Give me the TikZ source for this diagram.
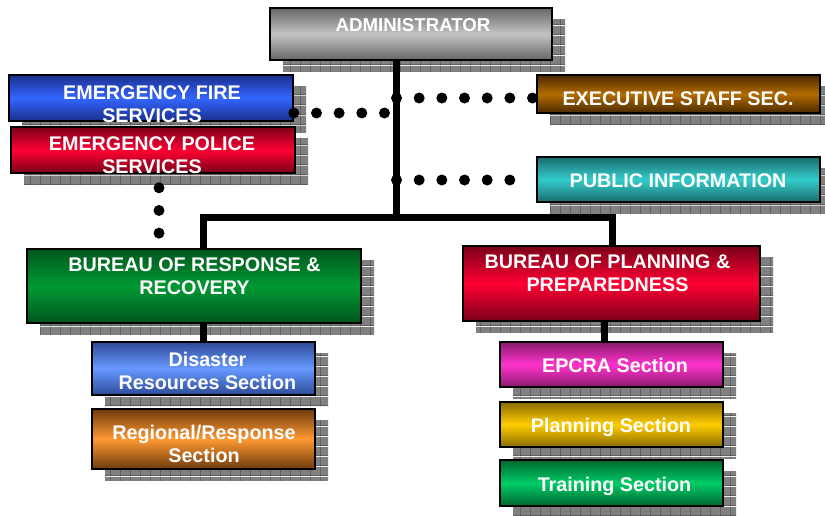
\documentclass[tikz,border=0pt]{standalone}
\usepackage{fontspec}
\setmainfont{Liberation Sans}
\usetikzlibrary{fit,shadows,patterns}

% chequered drop shadow under every box
\pgfdeclarepatterninherentlycolored{shadegrid}
{\pgfpointorigin}{\pgfqpoint{7.5pt}{7.5pt}}
{\pgfqpoint{7.5pt}{7.5pt}}
{
  \pgfsetfillcolor{black!50}
  \pgfpathrectangle{\pgfpointorigin}{\pgfqpoint{7.5pt}{7.5pt}}
  \pgfusepath{fill}
  \pgfsetstrokecolor{black!85}
  \pgfsetlinewidth{0.6pt}
  \pgfpathmoveto{\pgfpointorigin}
  \pgfpathlineto{\pgfqpoint{7.5pt}{0pt}}
  \pgfpathmoveto{\pgfpointorigin}
  \pgfpathlineto{\pgfqpoint{0pt}{7.5pt}}
  \pgfusepath{stroke}
}

\definecolor{admindark}{HTML}{666666}
\definecolor{adminlight}{HTML}{C4C4C4}
\definecolor{firedark}{HTML}{1A2F8C}
\definecolor{firelight}{HTML}{3366FF}
\definecolor{policedark}{HTML}{7A0018}
\definecolor{policelight}{HTML}{FF0033}
\definecolor{execdark}{HTML}{4A2A00}
\definecolor{execlight}{HTML}{B36B00}
\definecolor{publicdark}{HTML}{1B6B6B}
\definecolor{publiclight}{HTML}{33CCCC}
\definecolor{responsedark}{HTML}{00561D}
\definecolor{responselight}{HTML}{009933}
\definecolor{disasterdark}{HTML}{2E4A99}
\definecolor{disasterlight}{HTML}{6699FF}
\definecolor{regionaldark}{HTML}{6E3A0C}
\definecolor{regionallight}{HTML}{FF9933}
\definecolor{epcradark}{HTML}{8A1A6E}
\definecolor{epcralight}{HTML}{FF33CC}
\definecolor{planningdark}{HTML}{8A6D00}
\definecolor{planninglight}{HTML}{FFCC00}
\definecolor{trainingdark}{HTML}{00662F}
\definecolor{traininglight}{HTML}{00CC66}

\tikzset{
  orgbox/.style={draw=black, line width=1.2pt, inner sep=0pt,
    general shadow={shadow xshift=9.75pt, shadow yshift=-8.25pt, pattern=shadegrid}},
  tint/.style 2 args={top color=#1, bottom color=#1, middle color=#2},
  boxtext/.style={text=white, font=\fontsize{14.8}{17.3}\selectfont\bfseries,
    align=center, inner sep=0pt},
  link/.style={line width=5.25pt},
  dotline/.style={line width=8.25pt, line cap=round, dash pattern=on 0pt off 17pt},
}

\begin{document}
\begin{tikzpicture}[x=0.75pt, y=-0.75pt]
    \useasboundingbox (0,0) rectangle (825,515);

    % top of the chart
    \node[orgbox, tint={admindark}{adminlight}, fit={(270,8) (552,60)}] (admin) {};
    \node[boxtext, font=\fontsize{14}{17}\selectfont\bfseries] (admintext) at (413,25.5) {ADMINISTRATOR};

    % emergency services, left
    \node[orgbox, tint={firedark}{firelight}, fit={(9,75) (293,121)}] (fire) {};
    \node[boxtext] (firetext) at (152,104) {EMERGENCY FIRE\\SERVICES};
    \node[orgbox, tint={policedark}{policelight}, fit={(11,127) (295,173)}] (police) {};
    \node[boxtext] (policetext) at (152,155) {EMERGENCY POLICE\\SERVICES};

    % staff units, right
    \node[orgbox, tint={execdark}{execlight}, fit={(537,75) (820,113)}] (exec) {};
    \node[boxtext] (exectext) at (678,99) {EXECUTIVE STAFF SEC.};
    \node[orgbox, tint={publicdark}{publiclight}, fit={(537,157) (820,202)}] (public) {};
    \node[boxtext] (publictext) at (678,180.5) {PUBLIC INFORMATION};

    % the two bureaus
    \node[orgbox, tint={responsedark}{responselight}, fit={(27,249) (361,323)}] (response) {};
    \node[boxtext] (responsetext) at (194.5,276.5) {BUREAU OF RESPONSE \&\\RECOVERY};
    \node[orgbox, tint={policedark}{policelight}, fit={(463,246) (760,321)}] (planbureau) {};
    \node[boxtext] (planbureautext) at (607.5,273.5) {BUREAU OF PLANNING \&\\PREPAREDNESS};

    % sections under response & recovery
    \node[orgbox, tint={disasterdark}{disasterlight}, fit={(92,342) (315,395)}] (disaster) {};
    \node[boxtext] (disastertext) at (207.5,370.5) {Disaster\\Resources Section};
    \node[orgbox, tint={regionaldark}{regionallight}, fit={(92,409) (315,469)}] (regional) {};
    \node[boxtext] (regionaltext) at (204,443.5) {Regional/Response\\Section};

    % sections under planning & preparedness
    \node[orgbox, tint={epcradark}{epcralight}, fit={(500,342) (723,387)}] (epcra) {};
    \node[boxtext] (epcratext) at (615,365.5) {EPCRA Section};
    \node[orgbox, tint={planningdark}{planninglight}, fit={(500,402) (723,447)}] (planning) {};
    \node[boxtext] (planningtext) at (611,427.5) {Planning Section};
    \node[orgbox, tint={trainingdark}{traininglight}, fit={(500,460) (723,506)}] (training) {};
    \node[boxtext] (trainingtext) at (614.5,486.5) {Training Section};

    % solid lines of command
    \coordinate (hub) at (396.5,217);
    \coordinate (barL) at (203,217);
    \coordinate (barR) at (612,217);
    \draw[link] (admin.south -| hub) -- (hub);
    \draw[link] (barL |- response.north) -- (barL) -- (barR) -- (barR |- planbureau.north);
    \draw[link] (response.south -| disaster) -- (disaster.north);
    \coordinate (epcrain) at (604,0);
    \draw[link] (planbureau.south -| epcrain) -- (epcra.north -| epcrain);

    % dotted lines of coordination
    \coordinate (fireend) at (396.5,113);
    \coordinate (execstart) at (396.5,98);
    \coordinate (publicstart) at (396.5,180);
    \draw[dotline] (fire.east |- fireend) -- (fireend);
    \draw[dotline] (execstart) -- (execstart -| exec.west);
    \draw[dotline, shorten >=10pt] (publicstart) -- (publicstart -| public.west);
    \draw[dotline, dash phase=6.5pt] (police.south -| 159,0) -- (response.north -| 159,0);
\end{tikzpicture}
\end{document}
